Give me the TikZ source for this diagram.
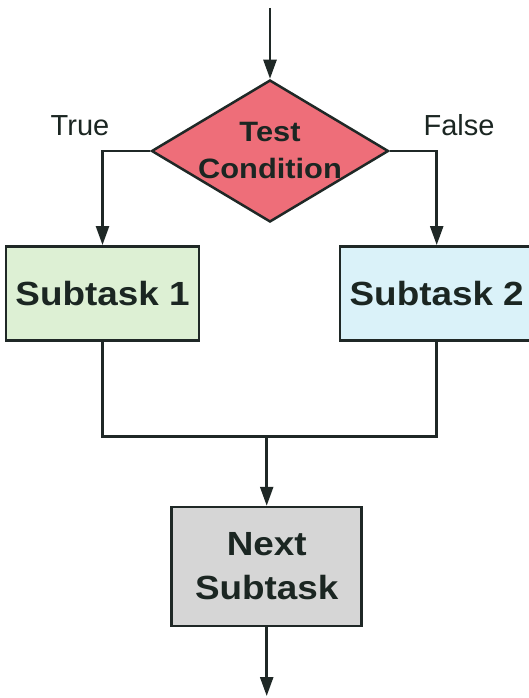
\documentclass[tikz,border=0pt]{standalone}
\usepackage{fontspec}
\setmainfont{Liberation Sans}
\newfontfamily\taskfont[FakeStretch=1.1]{Liberation Sans}
\usepackage{tikz}
\usetikzlibrary{arrows.meta,shapes.geometric}

\definecolor{linegray}{HTML}{1F2826}
\definecolor{condred}{HTML}{EE6E79}
\definecolor{taskgreen}{HTML}{DDF0D4}
\definecolor{taskblue}{HTML}{DAF2F9}
\definecolor{nextgray}{HTML}{D6D6D6}
\definecolor{textdark}{HTML}{1B2622}

\begin{document}
\begin{tikzpicture}[->,>={Triangle[width=13pt,length=19pt]},x=1pt,y=-1pt,
                    line width=2.5pt,color=linegray]
  \tikzstyle{task}=[rectangle,draw,inner sep=0pt,minimum width=193pt,minimum height=94pt,
                    font=\taskfont\bfseries\fontsize{33.5}{44}\selectfont,text=textdark,align=center]
  \tikzstyle{cond}=[diamond,draw,fill=condred,inner sep=0pt,minimum width=237pt,minimum height=142pt]
  \tikzstyle{branch}=[font=\fontsize{29}{35}\selectfont,text=textdark]

  \path[clip] (0,0) rectangle (529,698);

  \node[cond]                  (cond)     at (270,151)     {};
  \node[align=center,text=textdark,
        font=\taskfont\bfseries\fontsize{28}{37.6}\selectfont]
                               (condtext) at (270,150.5)   {Test\\Condition};
  \node[branch]                (true)     at (80,125.5)    {True};
  \node[branch]                (false)    at (459,125.5)   {False};
  \node[task,fill=taskgreen]   (sub1)     at (102.5,293.3) {Subtask 1};
  \node[task,fill=taskblue]    (sub2)     at (436.7,293.3) {Subtask 2};
  \node[task,fill=nextgray,minimum width=190pt,minimum height=119pt]
                               (next)     at (266.7,566.5) {Next\\Subtask};

  \coordinate (start) at (270,8);
  \coordinate (join)  at (266.7,436.7);
  \coordinate (end)   at (266.7,696);

  \draw (start) -- (cond.north);
  \draw (cond.west) -| (sub1.north);
  \draw (cond.east) -| (sub2.north);
  \draw[-] (sub1.south) |- (join) -| (sub2.south);
  \draw (join) -- (next.north);
  \draw (next.south) -- (end);

\end{tikzpicture}
\end{document}
